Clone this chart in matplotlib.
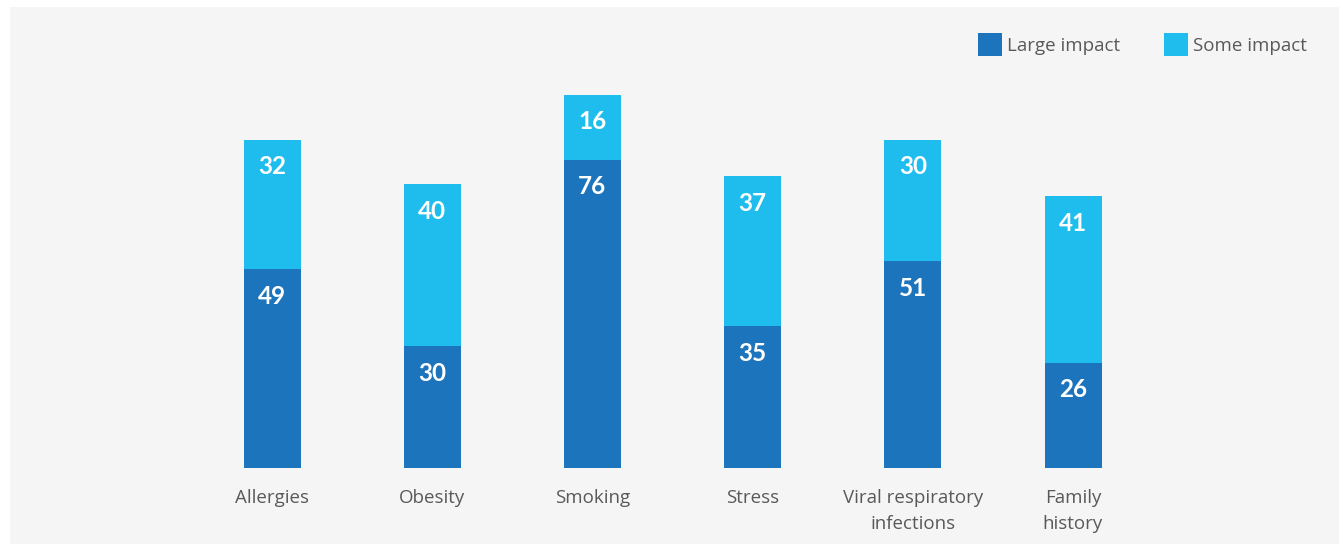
import matplotlib
matplotlib.use('agg')
import matplotlib.pyplot as plt
from matplotlib.patches import Rectangle
import numpy as np

categories = ["Allergies", "Obesity", "Smoking", "Stress", "Viral respiratory\ninfections", "Family\nhistory"]
large_impact = [49, 30, 76, 35, 51, 26]
some_impact = [32, 40, 16, 37, 30, 41]
series_names = ["Large impact", "Some impact"]

dark = "#1c75bc"
light = "#1fbdee"
grey_txt = "#595959"
panel = "#f5f5f5"

W, H = 1339, 544
fig = plt.figure(figsize=(W / 100, H / 100), dpi=100)
fig.patch.set_facecolor("white")
# light grey panel behind the chart
fig.patches.append(Rectangle((10 / W, 0), 1 - 10 / W, 1 - 7 / H, transform=fig.transFigure,
                             facecolor=panel, edgecolor="none", zorder=-10))

# axes placed so bar centres land at 272 + 160.2*i px, baseline 468, top of 92 at y=95
step = 160.2
left = 272 - step / 2
ax = fig.add_axes([left / W, (H - 468) / H, 6 * step / W, (468 - 95) / H])
ax.set_facecolor("none")

x = np.arange(len(categories))
bw = 57 / step
ax.bar(x, large_impact, width=bw, color=dark, zorder=2)
ax.bar(x, some_impact, width=bw, bottom=large_impact, color=light, zorder=2)

ax.set_xlim(-0.5, len(categories) - 0.5)
ax.set_ylim(0, max(a + b for a, b in zip(large_impact, some_impact)))

px = 92 / (468 - 95)  # data units per pixel
num_font = dict(family="Lato", fontsize=17.5, fontweight="bold", color="white",
                ha="center", va="center")
for i in range(len(categories)):
    lo, hi = large_impact[i], some_impact[i]
    ax.text(x[i], lo - 27 * px, str(lo), **num_font)
    ax.text(x[i], lo + hi - 27 * px, str(hi), **num_font)

ax.set_xticks(x)
ax.set_xticklabels(categories, family="Open Sans", fontsize=13.5, color=grey_txt,
                   linespacing=1.6, va="top")
ax.tick_params(axis="x", length=0, pad=15)
ax.set_yticks([])
for s in ax.spines.values():
    s.set_visible(False)

# legend drawn in figure pixels
for name, col, x0 in zip(series_names, [dark, light], [978, 1164]):
    fig.patches.append(Rectangle((x0 / W, (H - 56) / H), 24 / W, 23 / H,
                                 transform=fig.transFigure, facecolor=col, edgecolor="none"))
    fig.text((x0 + 29) / W, (H - 46) / H, name, family="Open Sans", fontsize=13.5,
             color=grey_txt, va="center", ha="left")

plt.savefig("out.png", dpi=100, facecolor=fig.get_facecolor())
